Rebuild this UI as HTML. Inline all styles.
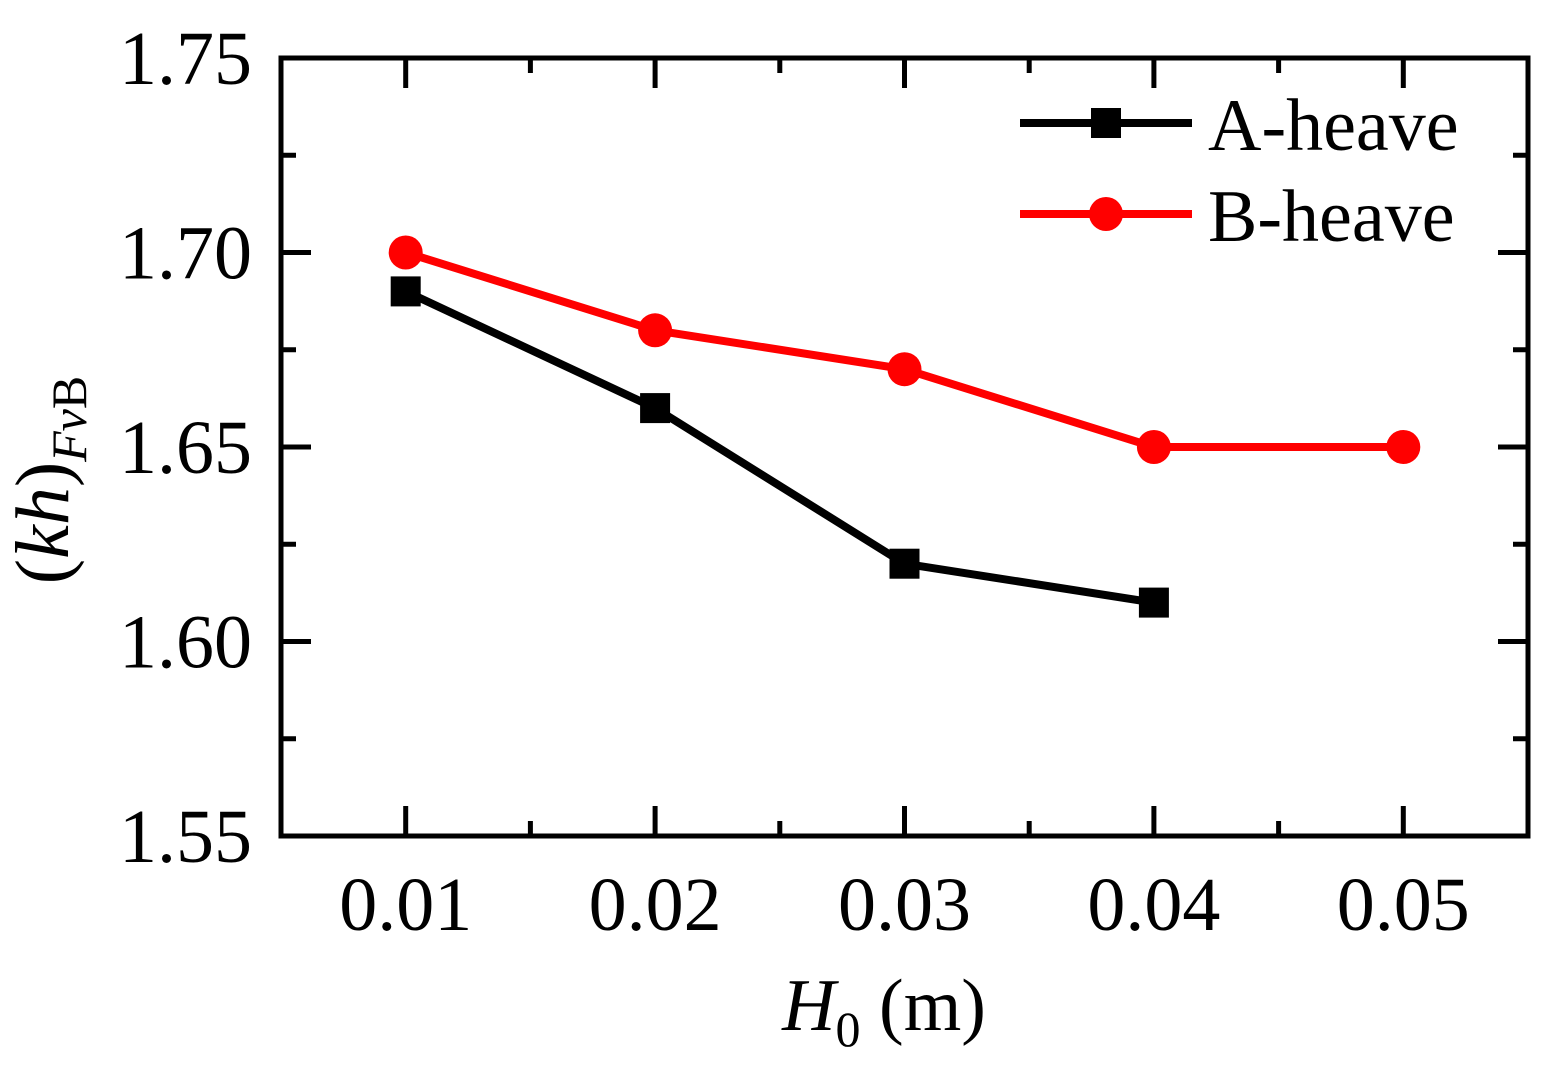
<!DOCTYPE html>
<html><head><meta charset="utf-8"><style>
body{margin:0;background:#fff}
svg text{font-family:"Liberation Serif",serif;fill:#000}
</style></head><body>
<svg width="1553" height="1071">
<g id="axes"></g>
<g id="series"></g>
<g>
  <line x1="1020" y1="123" x2="1192" y2="123" stroke="#000" stroke-width="8"/>
  <rect x="1091" y="108" width="30" height="30" fill="#000"/>
  <text x="1208" y="150" font-size="74">A-heave</text>
  <line x1="1020" y1="214" x2="1192" y2="214" stroke="#f00" stroke-width="8"/>
  <circle cx="1106" cy="214" r="17" fill="#f00"/>
  <text x="1208" y="241" font-size="74">B-heave</text>
</g>
<text x="884" y="1030" font-size="74" text-anchor="middle"><tspan font-style="italic">H</tspan><tspan font-size="50" dy="16">0</tspan><tspan dy="-16"> (m)</tspan></text>
<text transform="translate(68,480) rotate(-90)" font-size="76" text-anchor="middle">(<tspan font-style="italic">kh</tspan>)<tspan font-size="50" dy="18"><tspan font-style="italic">Fv</tspan>B</tspan></text>
</svg>
<script>
const xTicks=[0.01,0.02,0.03,0.04,0.05];
const xTickLabels=["0.01","0.02","0.03","0.04","0.05"];
const yTicks=[1.55,1.60,1.65,1.70,1.75];
const yTickLabels=["1.55","1.60","1.65","1.70","1.75"];
const xA=[0.01,0.02,0.03,0.04];
const yA=[1.69,1.66,1.62,1.61];
const xB=[0.01,0.02,0.03,0.04,0.05];
const yB=[1.70,1.68,1.67,1.65,1.65];
const L=281,R=1528,T=58,B=836,xmin=0.005,xmax=0.055,ymin=1.55,ymax=1.75;
const sx=v=>L+(v-xmin)/(xmax-xmin)*(R-L);
const sy=v=>B-(v-ymin)/(ymax-ymin)*(B-T);
const NS="http://www.w3.org/2000/svg";
const ax=document.getElementById('axes'),se=document.getElementById('series');
function mk(tag,attrs,parent){const e=document.createElementNS(NS,tag);for(const k in attrs)e.setAttribute(k,attrs[k]);parent.appendChild(e);return e;}
const fr=mk('rect',{x:L,y:T,width:R-L,height:B-T,fill:'none',stroke:'#000','stroke-width':5},ax);


function tk(x1,y1,x2,y2){const t=mk('line',{x1,y1,x2,y2,stroke:'#000','stroke-width':5},ax);

}
xTicks.forEach((v,i)=>{const x=sx(v);tk(x,B,x,B-30);tk(x,T,x,T+30);
 const m=sx(v+0.005);if(m<R){tk(m,B,m,B-15);tk(m,T,m,T+15);}
 const t=mk('text',{x:x,y:930,'font-size':76,'text-anchor':'middle'},ax);t.textContent=xTickLabels[i];
 
 });
yTicks.forEach((v,i)=>{const y=sy(v);tk(L,y,L+30,y);tk(R,y,R-30,y);
 if(v+0.025<ymax){const m=sy(v+0.025);tk(L,m,L+15,m);tk(R,m,R-15,m);}
 const t=mk('text',{x:252,y:y+26,'font-size':76,'text-anchor':'end'},ax);t.textContent=yTickLabels[i];
 
 });
const pa=mk('polyline',{points:xA.map((v,i)=>sx(v)+','+sy(yA[i])).join(' '),fill:'none',stroke:'#000','stroke-width':8},se);


const pb=mk('polyline',{points:xB.map((v,i)=>sx(v)+','+sy(yB[i])).join(' '),fill:'none',stroke:'#f00','stroke-width':8},se);


xA.forEach((v,i)=>{const r=mk('rect',{x:sx(v)-15,y:sy(yA[i])-15,width:30,height:30,fill:'#000'},se);
 
 });
xB.forEach((v,i)=>{const c=mk('circle',{cx:sx(v),cy:sy(yB[i]),r:17,fill:'#f00'},se);
 
 });
</script>
</body></html>
